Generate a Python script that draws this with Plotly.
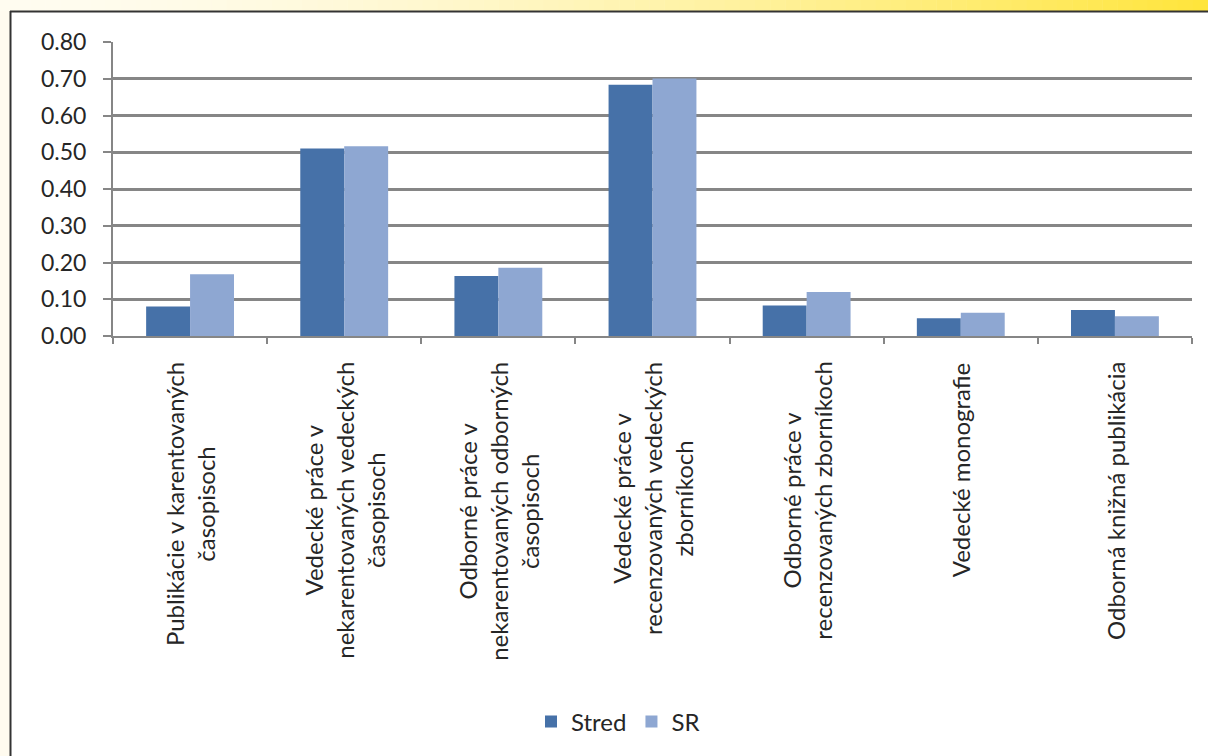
import plotly.graph_objects as go

# ---- data ----
categories = [
    "Publikácie v karentovaných časopisoch",
    "Vedecké práce v nekarentovaných vedeckých časopisoch",
    "Odborné práce v nekarentovaných odborných časopisoch",
    "Vedecké práce v recenzovaných vedeckých zborníkoch",
    "Odborné práce v recenzovaných zborníkoch",
    "Vedecké monografie",
    "Odborná knižná publikácia",
]
category_labels = [
    "Publikácie v karentovaných<br>časopisoch",
    "Vedecké práce v<br>nekarentovaných vedeckých<br>časopisoch",
    "Odborné práce v<br>nekarentovaných odborných<br>časopisoch",
    "Vedecké práce v<br>recenzovaných vedeckých<br>zborníkoch",
    "Odborné práce v<br>recenzovaných zborníkoch",
    "Vedecké monografie",
    "Odborná knižná publikácia",
]
stred = [0.08, 0.51, 0.163, 0.684, 0.083, 0.048, 0.071]
sr = [0.168, 0.516, 0.186, 0.701, 0.12, 0.063, 0.054]
series_names = ["Stred", "SR"]
y_ticks = [0.0, 0.1, 0.2, 0.3, 0.4, 0.5, 0.6, 0.7, 0.8]

# ---- layout geometry (pixels) ----
W, H = 1208, 756
L, R, T, B = 113, 1192, 42, 336
FONT = "Lato, Calibri, Carlito, sans-serif"
TXT = "#262626"
GRID = "#868686"

def px_x(px):
    return (px - L) / (R - L)

def px_y(py):
    return (B - py) / (B - T)

fig = go.Figure()
fig.add_trace(go.Bar(name=series_names[0], x=categories, y=stred,
                     marker=dict(color="#4671a8", line=dict(width=0))))
fig.add_trace(go.Bar(name=series_names[1], x=categories, y=sr,
                     marker=dict(color="#8ea7d2", line=dict(width=0))))

annotations = []
for cat, lab in zip(categories, category_labels):
    annotations.append(dict(
        x=cat, xref="x", y=0, yref="paper", yshift=-24,
        text=lab, textangle=-90, align="center",
        xanchor="center", yanchor="top", showarrow=False,
        font=dict(family=FONT, size=24, color=TXT),
    ))

shapes = []
# left cream strip
shapes.append(dict(type="rect", xref="paper", yref="paper",
                   x0=px_x(0), x1=px_x(10), y0=px_y(H), y1=px_y(0),
                   fillcolor="#fffbef", line=dict(width=0), layer="below"))
# top gradient band (cream -> yellow)
N = 80
c0 = (255, 252, 240)
c1 = (255, 229, 60)
for i in range(N):
    t = i / (N - 1)
    t2 = t ** 1.6
    col = tuple(int(round(c0[k] + (c1[k] - c0[k]) * t2)) for k in range(3))
    x0 = W * i / N
    x1 = W * (i + 1) / N + 0.5
    shapes.append(dict(type="rect", xref="paper", yref="paper",
                       x0=px_x(x0), x1=px_x(x1), y0=px_y(11), y1=px_y(0),
                       fillcolor="rgb(%d,%d,%d)" % col, line=dict(width=0), layer="below"))
# black frame lines
shapes.append(dict(type="line", xref="paper", yref="paper",
                   x0=px_x(10.5), x1=px_x(10.5), y0=px_y(11), y1=px_y(H),
                   line=dict(color="#333333", width=2)))
shapes.append(dict(type="line", xref="paper", yref="paper",
                   x0=px_x(10), x1=px_x(W), y0=px_y(11.5), y1=px_y(11.5),
                   line=dict(color="#333333", width=2)))

fig.update_layout(
    width=W, height=H,
    margin=dict(l=L, r=W - R, t=T, b=H - B, pad=0),
    paper_bgcolor="white", plot_bgcolor="white",
    barmode="group", bargap=0.43, bargroupgap=0,
    font=dict(family=FONT, size=22, color=TXT),
    showlegend=True,
    legend=dict(orientation="h", x=px_x(618), y=px_y(722),
                xanchor="center", yanchor="middle",
                font=dict(family=FONT, size=24, color=TXT),
                itemwidth=30, tracegroupgap=0, bgcolor="rgba(0,0,0,0)"),
    annotations=annotations,
    shapes=shapes,
    xaxis=dict(showticklabels=False, ticks="outside", tickson="boundaries",
               ticklen=6, tickwidth=2, tickcolor=GRID,
               showline=True, linecolor=GRID, linewidth=2,
               showgrid=False, zeroline=False),
    yaxis=dict(range=[0, 0.8], tickvals=y_ticks, tickformat=".2f",
               ticks="outside", ticklen=8, tickwidth=2, tickcolor=GRID,
               showline=True, linecolor=GRID, linewidth=2,
               showgrid=True, gridcolor=GRID, gridwidth=2.5,
               zeroline=False, ticklabelstandoff=12,
               tickfont=dict(family=FONT, size=23, color=TXT)),
)

fig.write_html("out.html", config={"displayModeBar": False},
               post_script="document.body.style.margin='0';document.body.style.overflow='hidden';")
